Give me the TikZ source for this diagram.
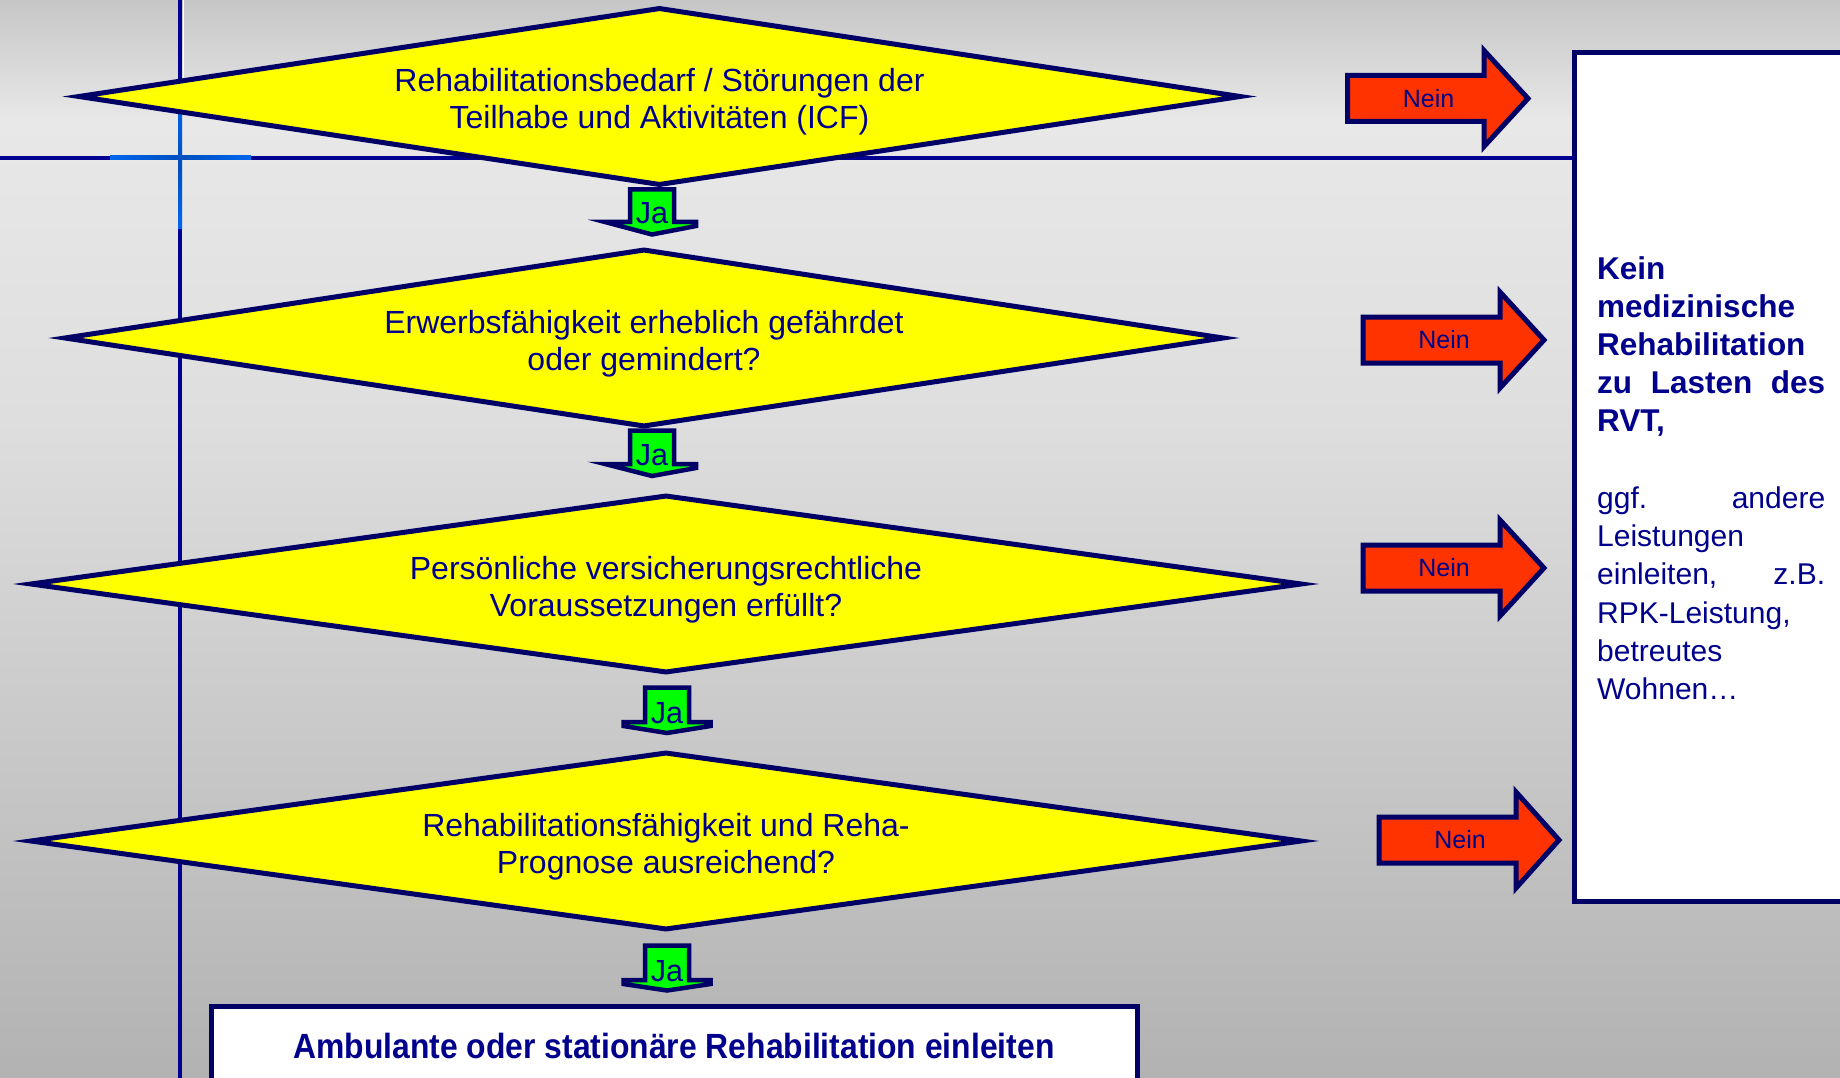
\documentclass[tikz,border=0pt]{standalone}
\usepackage{fontspec}
\usepackage{graphicx}
\setmainfont{Liberation Sans}
\usetikzlibrary{shapes.geometric}
\definecolor{navyline}{RGB}{0,0,145}
\definecolor{navyedge}{RGB}{0,0,102}
\definecolor{navytext}{RGB}{0,0,140}
\definecolor{diayellow}{RGB}{255,255,0}
\definecolor{jagreen}{RGB}{0,255,0}
\definecolor{neinred}{RGB}{255,51,0}
\definecolor{hiblue}{RGB}{0,102,238}
\definecolor{hiblueB}{RGB}{0,78,190}
\definecolor{bgA}{RGB}{198,198,198}
\definecolor{bgB}{RGB}{232,232,232}
\definecolor{bgC}{RGB}{222,222,222}
\definecolor{bgD}{RGB}{178,178,178}
% name, cx, top, wingy, tip, left wing x, left drop, right wing x, right drop
\newcommand{\jablock}[9]{%
  \draw[jaarrowstyle] (#2-22,#3) -- (#2-22,#4) -- (#6,#4) -- (#6,#4+#7) -- (#2,#5) -- (#8,#4+#9) -- (#8,#4) -- (#2+22,#4) -- (#2+22,#3) -- cycle;
  \node[jalabel] (#1) at (#2,#4+1.5) {Ja};
}
\newcommand{\neinblock}[5]{% name, left, headx, tip, cy
  \draw[neinarrowstyle] (#2,#5-23) -- (#3,#5-23) -- (#3,#5-48) -- (#4,#5) -- (#3,#5+48) -- (#3,#5+23) -- (#2,#5+23) -- cycle;
  \node[neinlabel] (#1) at (#2+81,#5) {Nein};
}
\newcommand{\lineone}{\rule{0pt}{34pt}}
\begin{document}
\begin{tikzpicture}[x=1pt,y=-1pt,
  decision/.style={diamond, draw=navyedge, line width=5pt, fill=diayellow, inner sep=0pt, aspect=6.8, minimum height=178pt, text=navytext, font=\fontsize{32}{37}\selectfont, align=center},
  jaarrowstyle/.style={fill=jagreen, draw=navyedge, line width=4.5pt},
  jalabel/.style={text=navytext, font=\fontsize{30.5}{31}\selectfont, inner sep=0pt, anchor=base},
  neinarrowstyle/.style={fill=neinred, draw=navyedge, line width=5pt},
  neinlabel/.style={text=navytext, font=\fontsize{25}{25}\selectfont, inner sep=0pt},
  guide/.style={draw=navyline, line width=4pt},
  whitebox/.style={draw=navyedge, line width=5pt, fill=white, inner sep=0pt, outer sep=0pt, anchor=north west},
]
\useasboundingbox (0,0) rectangle (1840,1078);
\clip (0,0) rectangle (1840,1078);
% background
\shade[top color=bgA, bottom color=bgB] (0,0) rectangle (1840,121);
\shade[top color=bgB, bottom color=bgC] (0,120) rectangle (1840,421);
\shade[top color=bgC, bottom color=bgD] (0,420) rectangle (1840,1078);
% right box
\node[whitebox, minimum width=290pt, minimum height=848pt] (nobox) at (1574,53) {};
\node[anchor=north west, inner sep=0pt, text width=228pt, align=left, text=navytext, font=\fontsize{30}{38.2}\selectfont] (notext) at (1597,256)
 {\bfseries\fontsize{31.5}{38.2}\selectfont Kein\\ medizinische\\ Rehabilitation\\ zu\hfill Lasten\hfill des\\ RVT,\\[38.5pt]
  \mdseries\fontsize{30}{38.2}\selectfont ggf.\hfill andere\\ Leistungen\\ einleiten,\hfill z.B.\\ RPK-Leistung,\\ betreutes\\ Wohnen…};
% guide lines
\coordinate (vtop) at (180,0);
\coordinate (vbot) at (180,1078);
\coordinate (hstart) at (0,158);
\draw[guide] (vtop) -- (vbot);
\draw[white, line width=1.2pt] (183.2,0) -- (183.2,90);
\draw[guide] (hstart) -- (hstart -| nobox.west);
\shade[left color=hiblue, right color=hiblue, middle color=hiblueB] (110,156) rectangle (251,160);
\shade[top color=hiblue, bottom color=hiblue, middle color=hiblueB] (178,100) rectangle (182,229);
% decisions
\node[decision, minimum width=1163pt] (d1) at (659.5,96.5) {\lineone Rehabilitationsbedarf / Störungen der\\Teilhabe und Aktivitäten (ICF)};
\node[decision, minimum width=1160pt] (d2) at (644,338) {\lineone Erwerbsfähigkeit erheblich gefährdet\\oder gemindert?};
\node[decision, minimum width=1272pt] (d3) at (666,584) {\lineone Persönliche versicherungsrechtliche\\Voraussetzungen erfüllt?};
\node[decision, minimum width=1272pt] (d4) at (666,841) {\lineone Rehabilitationsfähigkeit und Reha-\\Prognose ausreichend?};
% Ja arrows
\jablock{ja1}{652}{189.5}{222}{234.5}{605}{0}{696}{4}
\jablock{ja2}{652}{430.5}{464}{476}{605}{0}{696}{4}
\jablock{ja3}{667}{687.5}{722}{733}{623.5}{4}{710.5}{4}
\jablock{ja4}{667}{945.5}{980}{990.5}{623.5}{4}{710.5}{4}
% Nein arrows
\neinblock{nein1}{1347.5}{1484}{1528}{98.5}
\neinblock{nein2}{1363}{1500}{1544}{340}
\neinblock{nein3}{1363}{1500}{1544}{568}
\neinblock{nein4}{1379}{1516}{1559}{840}
% final box
\node[whitebox, minimum width=926pt, minimum height=120pt] (endbox) at (211,1006) {};
\node[text=navytext, inner sep=0pt, font=\bfseries\fontsize{35}{35}\selectfont] (endtext) at (674,1046) {\scalebox{0.91}[1]{Ambulante oder stationäre Rehabilitation einleiten}};
\end{tikzpicture}
\end{document}
